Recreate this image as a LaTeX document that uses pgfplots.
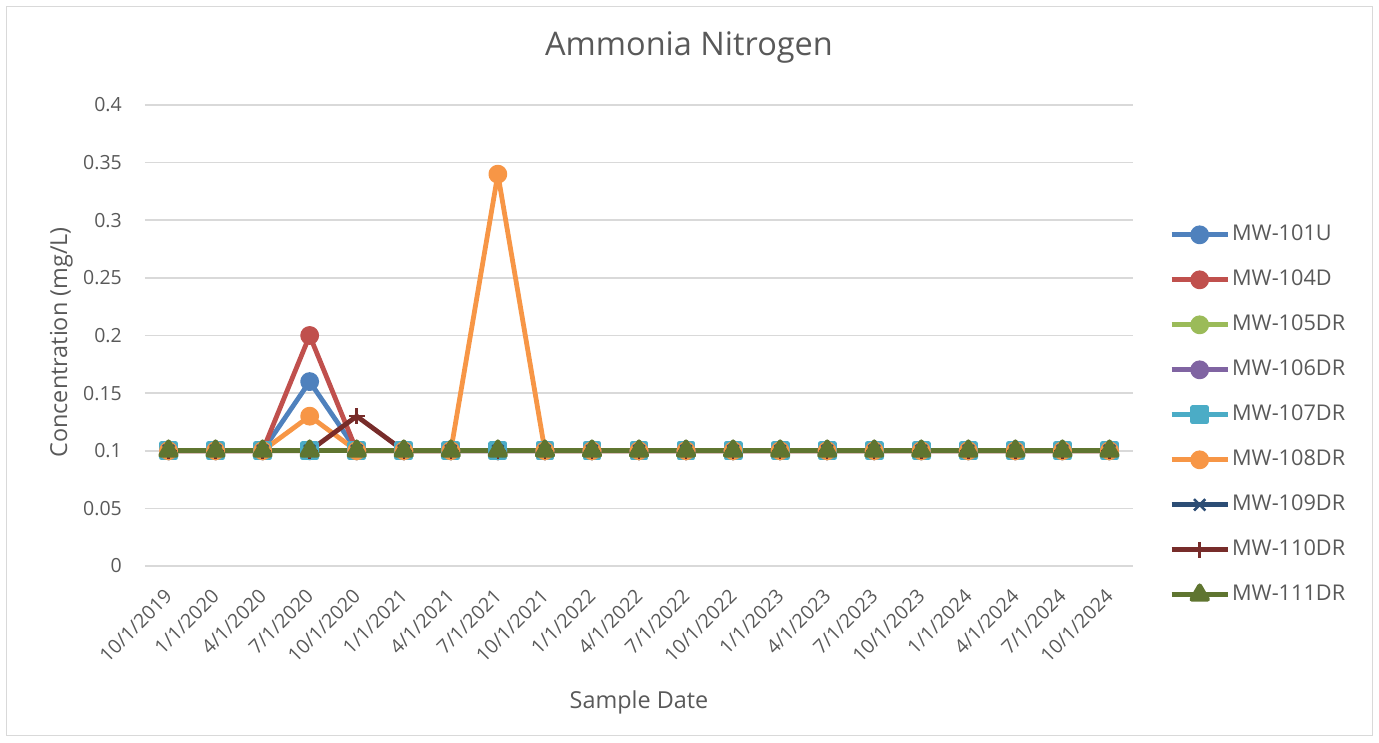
\documentclass[border=0pt]{standalone}
\usepackage{pgfplots}
\usepackage{pgfplotstable}
\pgfplotsset{compat=1.18}
\usepackage{fontspec}
\setmainfont{Open Sans}
\definecolor{txt}{HTML}{595959}
\definecolor{gridgray}{HTML}{D9D9D9}
\definecolor{c1}{HTML}{4F81BD}
\definecolor{c2}{HTML}{C0504D}
\definecolor{c3}{HTML}{9BBB59}
\definecolor{c4}{HTML}{8064A2}
\definecolor{c5}{HTML}{4BACC6}
\definecolor{c6}{HTML}{F79646}
\definecolor{c7}{HTML}{2C4D75}
\definecolor{c8}{HTML}{772C2A}
\definecolor{c9}{HTML}{5F7530}
\pgfplotstableread{
x a b c d e f g h i
0 0.1 0.1 0.1 0.1 0.1 0.1 0.1 0.1 0.1
1 0.1 0.1 0.1 0.1 0.1 0.1 0.1 0.1 0.1
2 0.1 0.1 0.1 0.1 0.1 0.1 0.1 0.1 0.1
3 0.16 0.2 0.1 0.1 0.1 0.13 0.1 0.1 0.1
4 0.1 0.1 0.1 0.1 0.1 0.1 0.1 0.13 0.1
5 0.1 0.1 0.1 0.1 0.1 0.1 0.1 0.1 0.1
6 0.1 0.1 0.1 0.1 0.1 0.1 0.1 0.1 0.1
7 0.1 0.1 0.1 0.1 0.1 0.34 0.1 0.1 0.1
8 0.1 0.1 0.1 0.1 0.1 0.1 0.1 0.1 0.1
9 0.1 0.1 0.1 0.1 0.1 0.1 0.1 0.1 0.1
10 0.1 0.1 0.1 0.1 0.1 0.1 0.1 0.1 0.1
11 0.1 0.1 0.1 0.1 0.1 0.1 0.1 0.1 0.1
12 0.1 0.1 0.1 0.1 0.1 0.1 0.1 0.1 0.1
13 0.1 0.1 0.1 0.1 0.1 0.1 0.1 0.1 0.1
14 0.1 0.1 0.1 0.1 0.1 0.1 0.1 0.1 0.1
15 0.1 0.1 0.1 0.1 0.1 0.1 0.1 0.1 0.1
16 0.1 0.1 0.1 0.1 0.1 0.1 0.1 0.1 0.1
17 0.1 0.1 0.1 0.1 0.1 0.1 0.1 0.1 0.1
18 0.1 0.1 0.1 0.1 0.1 0.1 0.1 0.1 0.1
19 0.1 0.1 0.1 0.1 0.1 0.1 0.1 0.1 0.1
20 0.1 0.1 0.1 0.1 0.1 0.1 0.1 0.1 0.1
}\data
\begin{document}
\begin{tikzpicture}
\useasboundingbox (-145pt,-176pt) rectangle (1234pt,566pt);
\draw[gridgray, line width=1pt] (-138pt,-169pt) rectangle (1227pt,559pt);
\begin{axis}[
  at={(0pt,0pt)}, anchor=south west,
  scale only axis, width=988pt, height=461pt,
  xmin=-0.5, xmax=20.5, ymin=0, ymax=0.4,
  ytick={0,0.05,...,0.4},
  xtick={0,...,20},
  xticklabels={10/1/2019,1/1/2020,4/1/2020,7/1/2020,10/1/2020,1/1/2021,4/1/2021,7/1/2021,10/1/2021,1/1/2022,4/1/2022,7/1/2022,10/1/2022,1/1/2023,4/1/2023,7/1/2023,10/1/2023,1/1/2024,4/1/2024,7/1/2024,10/1/2024},
  xmajorgrids=false, ymajorgrids=true,
  grid style={draw=gridgray, line width=1.5pt},
  axis line style={draw=none},
  major tick length=0pt,
  /pgf/number format/fixed, /pgf/number format/precision=2,
  /pgf/number format/assume math mode=true,
  tick label style={text=txt, font=\fontsize{19.5}{23}\selectfont},
  yticklabel style={anchor=east, inner sep=0pt},
  yticklabel shift=23pt,
  xticklabel style={rotate=45, anchor=east, inner sep=0pt},
  xticklabel shift=27pt,
  xlabel={Sample Date},
  xlabel style={at={(axis description cs:0.5,0)}, anchor=base, yshift=-142pt, text=txt, font=\fontsize{23.4}{28}\selectfont},
  ylabel={Concentration (mg/L)},
  ylabel style={at={(axis description cs:-0.0789,0.485)}, anchor=base, text=txt, font=\fontsize{23.4}{28}\selectfont},
  title={Ammonia Nitrogen},
  title style={at={(axis description cs:0.5506,1)}, anchor=base, yshift=43pt, text=txt, font=\fontsize{32.5}{38}\selectfont},
  clip=false,
  every axis plot/.append style={line width=4.8pt, line join=round},
  legend style={at={(axis description cs:1.0365,0.747)}, anchor=north west, draw=none, fill=none,
    font=\fontsize{21.7}{26}\selectfont, text=txt, row sep=19pt, inner sep=0pt,
    nodes={inner sep=2pt, text height=17pt, text depth=5pt}},
  legend cell align=left,
  legend image code/.code={\draw[mark repeat=2, mark phase=2] plot coordinates {(0pt,0pt) (28pt,0pt) (56pt,0pt)};},
]
\addplot[c1, mark=*, mark size=7pt, mark options={solid}] table[x=x,y=a]{\data};
\addlegendentry{MW-101U}
\addplot[c2, mark=*, mark size=7pt] table[x=x,y=b]{\data};
\addlegendentry{MW-104D}
\addplot[c3, mark=*, mark size=7pt] table[x=x,y=c]{\data};
\addlegendentry{MW-105DR}
\addplot[c4, mark=*, mark size=7pt] table[x=x,y=d]{\data};
\addlegendentry{MW-106DR}
\addplot[c5, mark=square*, mark size=7pt] table[x=x,y=e]{\data};
\addlegendentry{MW-107DR}
\addplot[c6, mark=*, mark size=7pt] table[x=x,y=f]{\data};
\addlegendentry{MW-108DR}
\addplot[c7, mark=x, mark size=8pt, mark options={line width=2.5pt}] table[x=x,y=g]{\data};
\addlegendentry{MW-109DR}
\addplot[c8, mark=+, mark size=8pt, mark options={line width=2.5pt}] table[x=x,y=h]{\data};
\addlegendentry{MW-110DR}
\addplot[c9, mark=triangle*, mark size=9pt] table[x=x,y=i]{\data};
\addlegendentry{MW-111DR}
\end{axis}
\end{tikzpicture}
\end{document}
